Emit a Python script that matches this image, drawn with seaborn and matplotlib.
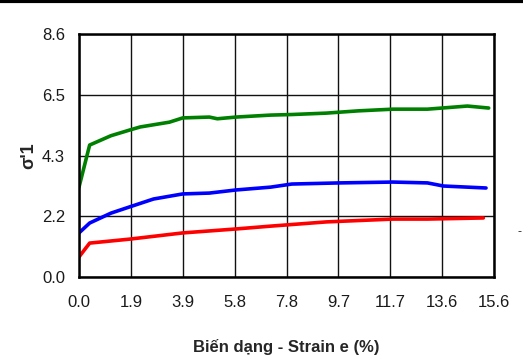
import numpy as np
import pandas as pd
import matplotlib
matplotlib.use("Agg")
import matplotlib.pyplot as plt
import seaborn as sns
from matplotlib.lines import Line2D

# data (strain %, sigma'1)
strain_green = [0.0, 0.4, 1.2, 1.9, 2.3, 3.4, 3.9, 4.9, 5.2, 5.9, 7.2, 8.0, 9.3, 10.5, 11.8, 13.1, 14.6, 15.4]
sigma_green = [3.18, 4.67, 5.0, 5.2, 5.31, 5.48, 5.63, 5.66, 5.6, 5.66, 5.73, 5.75, 5.8, 5.88, 5.94, 5.94, 6.05, 5.98]

strain_blue = [0.0, 0.4, 1.2, 1.9, 2.8, 3.9, 4.9, 5.9, 7.2, 8.0, 9.8, 11.8, 13.1, 13.7, 15.3]
sigma_blue = [1.56, 1.91, 2.26, 2.48, 2.76, 2.94, 2.97, 3.08, 3.18, 3.29, 3.33, 3.36, 3.33, 3.22, 3.15]

strain_red = [0.0, 0.4, 1.9, 3.9, 5.9, 7.2, 9.3, 11.8, 13.1, 15.2]
sigma_red = [0.71, 1.2, 1.34, 1.56, 1.7, 1.8, 1.95, 2.05, 2.05, 2.09]

x_ticks = [0.0, 1.95, 3.9, 5.85, 7.8, 9.75, 11.7, 13.65, 15.6]
x_labels = ["0.0", "1.9", "3.9", "5.8", "7.8", "9.7", "11.7", "13.6", "15.6"]
y_ticks = [0.0, 2.15, 4.3, 6.45, 8.6]
y_labels = ["0.0", "2.2", "4.3", "6.5", "8.6"]

df = pd.concat([
    pd.DataFrame({"strain": strain_green, "sigma": sigma_green, "series": "g"}),
    pd.DataFrame({"strain": strain_blue, "sigma": sigma_blue, "series": "b"}),
    pd.DataFrame({"strain": strain_red, "sigma": sigma_red, "series": "r"}),
])

sns.set_style("white")
plt.rcParams["font.family"] = ["Liberation Sans", "DejaVu Sans"]

fig, ax = plt.subplots(figsize=(5.23, 3.58), dpi=100)
fig.subplots_adjust(left=79 / 523, right=494 / 523, bottom=1 - 277 / 358, top=1 - 34 / 358)

sns.lineplot(data=df, x="strain", y="sigma", hue="series", sort=False,
             palette={"g": "#008000", "b": "#0000ff", "r": "#ff0000"},
             linewidth=2.6, legend=False, ax=ax)

ax.set_xlim(0, 15.6)
ax.set_ylim(0, 8.6)
ax.set_xticks(x_ticks)
ax.set_xticklabels(x_labels)
ax.set_yticks(y_ticks)
ax.set_yticklabels(y_labels)
ax.tick_params(length=0, labelsize=12, colors="#1a1a1a")
ax.tick_params(axis="x", pad=13)
ax.tick_params(axis="y", pad=10)
ax.grid(True, color="#111111", linewidth=1)
for s in ax.spines.values():
    s.set_color("black")
    s.set_linewidth(1.8)

ax.set_xlabel("Biến dạng - Strain e (%)", fontsize=12, fontweight="bold", labelpad=21)
ax.set_ylabel("σ'1", fontsize=13, fontweight="bold", labelpad=3)

fig.add_artist(Line2D([0, 1], [0.996, 0.996], color="black", linewidth=3, transform=fig.transFigure))
fig.text(520 / 523, 1 - 232 / 358, "-", fontsize=9, ha="center", va="center")

fig.savefig("out.png", dpi=100)
